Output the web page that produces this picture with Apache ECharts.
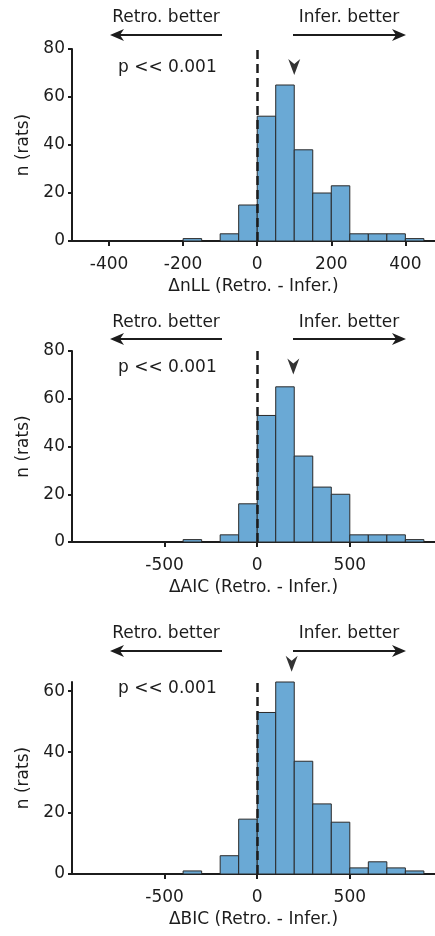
<!DOCTYPE html>
<html lang="en">
<head>
    <meta charset="UTF-8">
    <script src="https://cdn.jsdelivr.net/npm/echarts@6/dist/echarts.min.js"></script>
    <title>Model comparison histograms</title>
</head>
<body style="margin:0; background:#fff;">
<div id="container" style="width:435px; height:936px;"></div>
<script>
    // histogram bins: left edge of each bin and the count in it
    const nllStarts = [-200, -100, -50, 0, 50, 100, 150, 200, 250, 300, 350, 400];
    const nllCounts = [1, 3, 15, 52, 65, 38, 20, 23, 3, 3, 3, 1];
    const nllWidth = 50;
    const aicStarts = [-400, -200, -100, 0, 100, 200, 300, 400, 500, 600, 700, 800];
    const aicCounts = [1, 3, 16, 53, 65, 36, 23, 20, 3, 3, 3, 1];
    const aicWidth = 100;
    const bicStarts = [-400, -200, -100, 0, 100, 200, 300, 400, 500, 600, 700, 800];
    const bicCounts = [1, 6, 18, 53, 63, 37, 23, 17, 2, 4, 2, 1];
    const bicWidth = 100;
    // medians (arrowhead markers)
    const medians = [100, 195, 186];
    const markerY = [72.5, 73.5, 69];
    // axis ticks
    const xTicks = [[-400, -200, 0, 200, 400], [-500, 0, 500], [-500, 0, 500]];
    const yTicks = [[0, 20, 40, 60, 80], [0, 20, 40, 60, 80], [0, 20, 40, 60]];
    const xNames = ['ΔnLL (Retro. - Infer.)', 'ΔAIC (Retro. - Infer.)', 'ΔBIC (Retro. - Infer.)'];

    const FONT = '"DejaVu Sans", sans-serif';
    const FS = 17;
    const INK = '#1c1c1c';
    const BAR = '#6aa9d5';

    const grids = [
        {left: 72, right: 0, top: 49, height: 192},
        {left: 72, right: 0, top: 351, height: 191},
        {left: 72, right: 0, top: 682, height: 192}
    ];
    const xRanges = [[-500, 480], [-1000, 960], [-1000, 960]];
    const yMax = [80, 80, 63];

    const hists = [
        {starts: nllStarts, counts: nllCounts, w: nllWidth},
        {starts: aicStarts, counts: aicCounts, w: aicWidth},
        {starts: bicStarts, counts: bicCounts, w: bicWidth}
    ];

    let dom = document.getElementById('container');
    let myChart = echarts.init(dom, null, {renderer: 'canvas'});

    let xAxis = [], yAxis = [], series = [], graphic = [];
    grids.forEach(function (g, i) {
        xAxis.push({
            type: 'value', gridIndex: i, min: xRanges[i][0], max: xRanges[i][1],
            name: xNames[i], nameLocation: 'middle', nameGap: 37,
            nameTextStyle: {fontFamily: FONT, fontSize: FS, color: INK},
            splitLine: {show: false},
            axisLine: {onZero: false, lineStyle: {color: INK, width: 2}},
            axisTick: {customValues: xTicks[i], length: 5, lineStyle: {color: INK, width: 2}},
            axisLabel: {customValues: xTicks[i], margin: 15, fontFamily: FONT, fontSize: FS, color: INK}
        });
        yAxis.push({
            type: 'value', gridIndex: i, min: 0, max: yMax[i],
            name: 'n (rats)', nameLocation: 'middle', nameGap: 38,
            nameTextStyle: {fontFamily: FONT, fontSize: FS, color: INK},
            splitLine: {show: false},
            axisLine: {show: true, onZero: false, lineStyle: {color: INK, width: 2}},
            axisTick: {show: true, customValues: yTicks[i], length: 4, lineStyle: {color: INK, width: 2}},
            axisLabel: {customValues: yTicks[i], margin: 7, fontFamily: FONT, fontSize: FS, color: INK}
        });
        let h = hists[i];
        series.push({
            type: 'custom', xAxisIndex: i, yAxisIndex: i,
            data: h.starts.map(function (s, k) { return [s, s + h.w, h.counts[k]]; }),
            renderItem: function (params, api) {
                let p0 = api.coord([api.value(0), api.value(2)]);
                let p1 = api.coord([api.value(1), 0]);
                return {
                    type: 'rect',
                    shape: {x: p0[0], y: p0[1], width: p1[0] - p0[0], height: p1[1] - p0[1]},
                    style: {fill: BAR, stroke: '#2a2a2a', lineWidth: 1}
                };
            },
            encode: {x: [0, 1], y: 2},
            z: 1,
            markLine: {
                silent: true, symbol: 'none', animation: false,
                label: {show: false},
                lineStyle: {color: INK, width: 2.5, type: [9, 5]},
                data: [{xAxis: 0}]
            }
        });
        series.push({
            type: 'scatter', xAxisIndex: i, yAxisIndex: i, clip: false,
            symbol: 'path://M0,0 L6,5 L12,0 L6,16 Z', symbolSize: [12, 16],
            itemStyle: {color: '#000'},
            data: [[medians[i], markerY[i]]],
            z: 5
        });
    });

    // "better" arrows and p-value text above each panel
    const textY = [18, 323, 634];
    const arrowY = [35, 339, 651];
    const pY = [68, 368, 689];
    const txt = {fontFamily: FONT, fontSize: FS, fill: INK};
    textY.forEach(function (ty, i) {
        let ay = arrowY[i];
        graphic.push(
            {type: 'text', x: 166, y: ty, style: Object.assign({text: 'Retro. better', align: 'center', verticalAlign: 'middle'}, txt)},
            {type: 'text', x: 349, y: ty, style: Object.assign({text: 'Infer. better', align: 'center', verticalAlign: 'middle'}, txt)},
            {type: 'line', shape: {x1: 118, y1: ay, x2: 222, y2: ay}, style: {stroke: INK, lineWidth: 2}},
            {type: 'polygon', shape: {points: [[110, ay], [124, ay - 6], [120, ay], [124, ay + 6]]}, style: {fill: INK}},
            {type: 'line', shape: {x1: 293, y1: ay, x2: 398, y2: ay}, style: {stroke: INK, lineWidth: 2}},
            {type: 'polygon', shape: {points: [[406, ay], [392, ay - 6], [396, ay], [392, ay + 6]]}, style: {fill: INK}},
            {type: 'text', x: 118, y: pY[i], style: Object.assign({text: 'p << 0.001', align: 'left', verticalAlign: 'middle'}, txt)}
        );
    });

    let option = {
        animation: false,
        grid: grids,
        xAxis: xAxis,
        yAxis: yAxis,
        series: series,
        graphic: graphic
    };
    myChart.setOption(option);
</script>
</body>
</html>
